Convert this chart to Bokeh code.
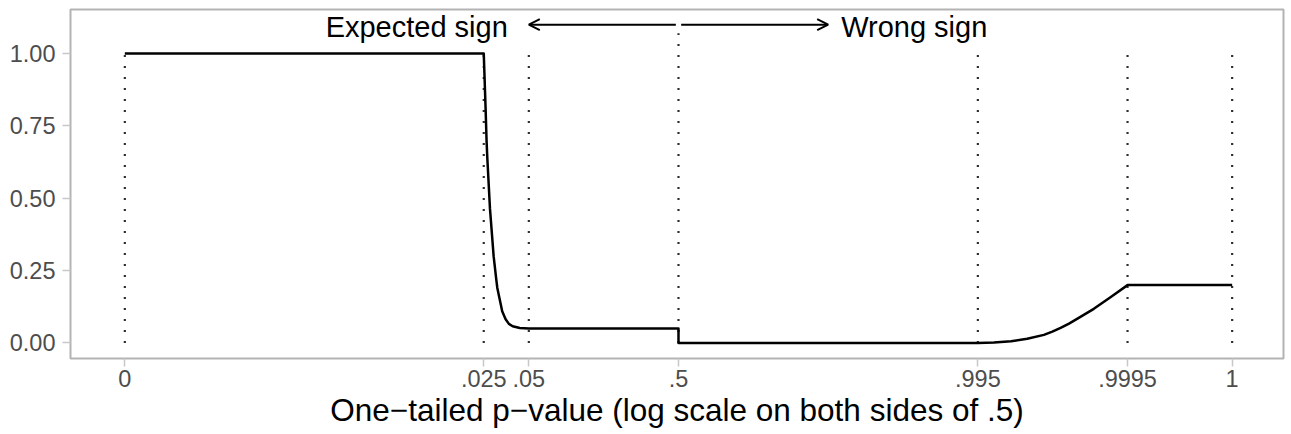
import numpy as np
from bokeh.plotting import figure
from bokeh.models import Range1d, FixedTicker, Arrow, OpenHead, Label
from bokeh.embed import file_html
from bokeh.resources import INLINE

# ---- data ----
tick_p = [0, 0.025, 0.05, 0.5, 0.995, 0.9995, 1]
tick_labels = ["0", ".025", ".05", ".5", ".995", ".9995", "1"]
vline_top = [1, 1, 1, 1.07, 1, 1, 1]

y_ticks = [0, 0.25, 0.5, 0.75, 1.0]
y_labels = ["0.00", "0.25", "0.50", "0.75", "1.00"]

curve_p = [0, 0.025, 0.0257, 0.0261, 0.0264, 0.0275, 0.0291, 0.0303, 0.0308,
           0.0332, 0.0350, 0.0368, 0.0390, 0.0435, 0.05,
           0.5, 0.5,
           0.995, 0.9961, 0.9970, 0.99766, 0.99819, 0.99841, 0.99860,
           0.99877, 0.99892, 0.99916, 0.99935, 0.9995, 1]
curve_y = [1, 1, 0.815, 0.70, 0.64, 0.465, 0.30, 0.22, 0.19,
           0.11, 0.082, 0.066, 0.058, 0.052, 0.05,
           0.05, 0.0,
           0.0, 0.0015, 0.006, 0.0145, 0.028, 0.039, 0.052,
           0.067, 0.084, 0.118, 0.158, 0.20, 0.20]

arrow_left = (0.48, 0.05)
arrow_right = (0.52, 0.95)
arrow_y = 1.1
label_left = "Expected sign"
label_right = "Wrong sign"
x_title = "One\u2212tailed p\u2212value (log scale on both sides of .5)"

FLOOR = 1e-4  # 0 and 1 are drawn at p = 1e-4 and 1 - 1e-4


def tx(p):
    """log scale on both sides of .5"""
    p = np.clip(np.asarray(p, dtype=float), FLOOR, 1 - FLOOR)
    left = np.log10(p) - np.log10(0.5)
    right = -(np.log10(1 - p) - np.log10(0.5))
    return np.where(p <= 0.5, left, right)


FONT = "Liberation Sans"

fig = figure(width=1291, height=434,
             x_range=Range1d(-4.062, 4.042), y_range=Range1d(-0.0536, 1.1524),
             output_backend="svg", toolbar_location=None,
             min_border_left=70, min_border_right=8,
             min_border_top=9, min_border_bottom=76)

fig.background_fill_color = "white"
fig.border_fill_color = "white"
fig.outline_line_color = "#B3B3B3"
fig.outline_line_width = 2
fig.xgrid.visible = False
fig.ygrid.visible = False

# dotted reference lines
xt = tx(tick_p)
fig.segment(x0=xt, y0=[0] * len(xt), x1=xt, y1=vline_top,
            line_color="#2E2E2E", line_width=2.2, line_dash="2 9")

# curve
fig.line(tx(curve_p), curve_y, line_color="black", line_width=2.5,
         line_join="round")

# arrows
for (pa, pb) in (arrow_left, arrow_right):
    fig.add_layout(Arrow(end=OpenHead(size=11, line_width=2, line_color="black"),
                         x_start=float(tx(pa)), y_start=arrow_y,
                         x_end=float(tx(pb)), y_end=arrow_y,
                         line_width=2, line_color="black"))

fig.add_layout(Label(x=float(tx(arrow_left[1])), y=arrow_y, x_offset=-21,
                     y_offset=-2,
                     text=label_left, text_align="right", text_baseline="middle",
                     text_font=FONT, text_font_size="29px", text_color="black"))
fig.add_layout(Label(x=float(tx(arrow_right[1])), y=arrow_y, x_offset=13,
                     y_offset=-2,
                     text=label_right, text_align="left", text_baseline="middle",
                     text_font=FONT, text_font_size="29px", text_color="black"))

# axes
xticks = [float(v) for v in xt]
fig.xaxis.ticker = FixedTicker(ticks=xticks)
fig.xaxis.major_label_overrides = {t: lab for t, lab in zip(xticks, tick_labels)}
fig.yaxis.ticker = FixedTicker(ticks=y_ticks)
fig.yaxis.major_label_overrides = {float(t): lab for t, lab in zip(y_ticks, y_labels)}

for ax in (fig.xaxis, fig.yaxis):
    ax.axis_line_color = None
    ax.minor_tick_line_color = None
    ax.major_tick_in = 0
    ax.major_tick_out = 8
    ax.major_tick_line_color = "#C8C8C8"
    ax.major_tick_line_width = 1.5
    ax.major_label_text_font = FONT
    ax.major_label_text_font_size = "23.5px"
    ax.major_label_text_color = "#4D4D4D"

fig.yaxis.major_label_standoff = 7
fig.xaxis.major_label_standoff = 3
fig.xaxis.axis_label = x_title
fig.xaxis.axis_label_text_font = FONT
fig.xaxis.axis_label_text_font_size = "31.5px"
fig.xaxis.axis_label_text_font_style = "normal"
fig.xaxis.axis_label_text_color = "black"
fig.xaxis.axis_label_standoff = 2

open("out.html", "w").write(file_html(fig, INLINE))
